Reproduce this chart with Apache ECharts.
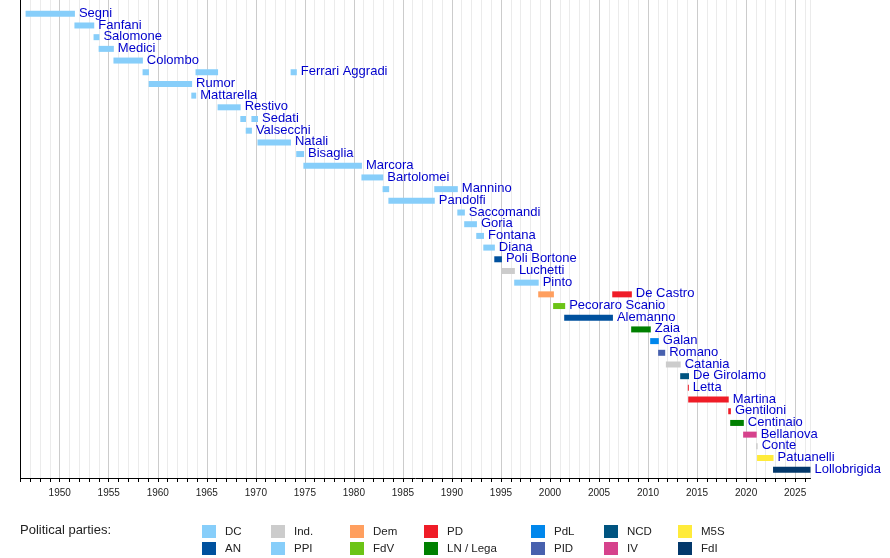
<!DOCTYPE html>
<html>
<head>
<meta charset="utf-8">
<script src="https://cdn.jsdelivr.net/npm/echarts@6/dist/echarts.min.js"></script>
<style>
  html, body { margin: 0; padding: 0; background: #fff; }
  #main { width: 890px; height: 558px; }
</style>
</head>
<body>
<div id="main"></div>
<script>
// one row per minister, top to bottom
const ministers = ['Segni', 'Fanfani', 'Salomone', 'Medici', 'Colombo', 'Ferrari Aggradi', 'Rumor',
  'Mattarella', 'Restivo', 'Sedati', 'Valsecchi', 'Natali', 'Bisaglia', 'Marcora', 'Bartolomei',
  'Mannino', 'Pandolfi', 'Saccomandi', 'Goria', 'Fontana', 'Diana', 'Poli Bortone', 'Luchetti',
  'Pinto', 'De Castro', 'Pecoraro Scanio', 'Alemanno', 'Zaia', 'Galan', 'Romano', 'Catania',
  'De Girolamo', 'Letta', 'Martina', 'Gentiloni', 'Centinaio', 'Bellanova', 'Conte',
  'Patuanelli', 'Lollobrigida'];

// terms in office (years as decimals)
const termRow = [0, 1, 2, 3, 4, 5, 5, 5, 6, 7, 8, 9, 9, 10, 11, 12, 13, 14, 15, 15, 16, 17, 18, 19,
  20, 21, 22, 23, 24, 24, 25, 26, 27, 28, 29, 30, 31, 32, 33, 34, 35, 36, 37, 38, 39];
const termStart = [1946.52, 1951.50, 1953.45, 1953.97, 1955.48, 1958.45, 1963.85, 1973.55, 1959.07,
  1963.42, 1966.10, 1968.42, 1969.55, 1968.97, 1970.17, 1974.12, 1974.85, 1980.77, 1982.93, 1988.20,
  1983.52, 1990.55, 1991.25, 1992.48, 1993.20, 1994.32, 1995.03, 1996.35, 1998.80, 2006.35, 2000.32,
  2001.45, 2008.28, 2010.22, 2011.03, 2011.82, 2013.28, 2014.06, 2014.10, 2018.18, 2018.38, 2019.70,
  2021.03, 2021.12, 2022.75];
const termEnd = [1951.55, 1953.52, 1954.05, 1955.52, 1958.48, 1959.10, 1966.15, 1974.18, 1963.50,
  1963.92, 1968.45, 1969.00, 1970.22, 1969.60, 1973.58, 1974.92, 1980.82, 1983.00, 1983.60, 1990.60,
  1988.25, 1991.32, 1992.55, 1993.27, 1994.38, 1995.10, 1996.42, 1998.85, 2000.40, 2008.35, 2001.55,
  2006.42, 2010.28, 2011.10, 2011.75, 2013.33, 2014.18, 2014.15, 2018.23, 2018.45, 2019.77, 2021.08,
  2021.18, 2022.80, 2026.57];
const termParty = ['DC', 'DC', 'DC', 'DC', 'DC', 'DC', 'DC', 'DC', 'DC', 'DC', 'DC', 'DC', 'DC', 'DC',
  'DC', 'DC', 'DC', 'DC', 'DC', 'DC', 'DC', 'DC', 'DC', 'DC', 'DC', 'AN', 'Ind.', 'PPI', 'Dem', 'PD',
  'FdV', 'AN', 'LN / Lega', 'PdL', 'PID', 'Ind.', 'NCD', 'PD', 'PD', 'PD', 'LN / Lega', 'IV', 'Ind.',
  'M5S', 'FdI'];

// legend order, column by column
const parties = ['DC', 'AN', 'Ind.', 'PPI', 'Dem', 'FdV', 'PD', 'LN / Lega', 'PdL', 'PID', 'NCD', 'IV', 'M5S', 'FdI'];
const partyColors = ['#87cefa', '#00519e', '#cccccc', '#87cefa', '#ff9f5f', '#6cc417', '#ef1c27',
  '#008000', '#0087ec', '#4861ae', '#005480', '#d6428c', '#ffeb3b', '#03386b'];

const chart = echarts.init(document.getElementById('main'));

// the label goes after the last bar of each row
const lastEnd = {};
termRow.forEach((r, i) => {
  if (lastEnd[r] === undefined || termEnd[i] > lastEnd[r]) lastEnd[r] = termEnd[i];
});

const renderBar = (params, api) => {
  const row = api.value(2);
  const a = api.coord([api.value(0), row]);
  const b = api.coord([api.value(1), row]);
  const h = 6;
  const children = [{
    type: 'rect',
    shape: { x: a[0], y: a[1] - h / 2, width: Math.max(b[0] - a[0], 1), height: h },
    style: { fill: api.visual('color') }
  }];
  if (api.value(3)) {
    children.push({
      type: 'text',
      style: {
        x: b[0] + 4, y: a[1] - 0.5, text: ministers[row],
        fill: '#0000cc', font: '13px "Liberation Sans", Arial, sans-serif',
        textAlign: 'left', textVerticalAlign: 'middle'
      }
    });
  }
  return { type: 'group', children };
};

const series = parties.map((p, k) => ({
  name: p,
  type: 'custom',
  renderItem: renderBar,
  color: partyColors[k],
  silent: true,
  encode: { x: [0, 1], y: 2 },
  data: termRow.map((r, i) => i).filter(i => termParty[i] === p)
    .map(i => [termStart[i], termEnd[i], termRow[i], termEnd[i] === lastEnd[termRow[i]] ? 1 : 0])
}));

const legendX = [202, 271, 350, 424, 531, 604, 678];
const legends = legendX.map((x, c) => ({
  left: x, top: 525, orient: 'vertical', padding: 0,
  itemWidth: 14, itemHeight: 13, itemGap: 4, icon: 'rect',
  selectedMode: false,
  data: [parties[c * 2], parties[c * 2 + 1]],
  textStyle: { fontSize: 11.5, color: '#222', fontFamily: '"Liberation Sans Narrow", "Liberation Sans", Arial',
    padding: [0, 0, 0, 4] }
}));

const option = {
  animation: false,
  title: {
    text: 'Political parties:', left: 20, top: 524, padding: 0,
    textStyle: { fontSize: 13, fontWeight: 'normal', color: '#222', fontFamily: '"Liberation Sans", Arial' }
  },
  legend: legends,
  grid: { left: 20.5, right: 79.5, top: 0, bottom: 80 },
  xAxis: {
    type: 'value', position: 'bottom',
    min: 1946, max: 2026.57, interval: 1,
    axisLine: { onZero: false, lineStyle: { color: '#000', width: 1 } },
    axisTick: { length: 4, lineStyle: { color: '#000' } },
    axisLabel: {
      margin: 10, fontSize: 10, color: '#222', showMaxLabel: false,
      fontFamily: '"Liberation Sans Narrow", "Liberation Sans", Arial',
      formatter: v => (v % 5 === 0 ? String(v) : '')
    },
    splitLine: {
      show: true,
      lineStyle: { color: ['#ebebeb', '#ebebeb', '#ebebeb', '#ebebeb', '#cccccc'], width: 1 }
    }
  },
  yAxis: {
    type: 'value', inverse: true, min: -1.18, max: 39.71,
    axisLine: { show: true, onZero: false, lineStyle: { color: '#000' } },
    axisTick: { show: false }, axisLabel: { show: false }, splitLine: { show: false }
  },
  series
};

chart.setOption(option);

window.addEventListener('resize', () => {
  chart.resize();
});
</script>
</body>
</html>
